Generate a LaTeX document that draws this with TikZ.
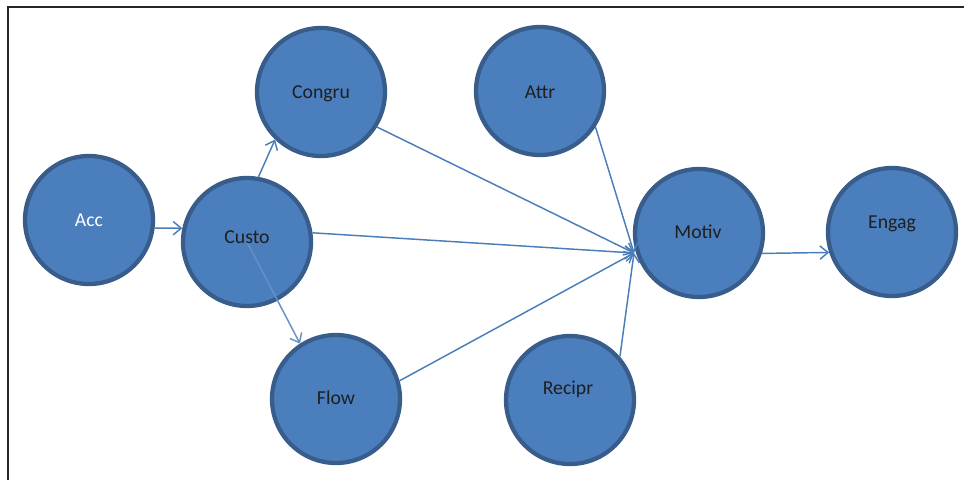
\documentclass[tikz,border=0pt]{standalone}
\usepackage{fontspec}
\setmainfont{Carlito}
\usetikzlibrary{arrows.meta}
\definecolor{ballfill}{HTML}{4A7EBD}
\definecolor{ballline}{HTML}{385D8A}
\definecolor{arrowcol}{HTML}{4A7EBB}
\definecolor{txtcol}{HTML}{1F1F1F}
\tikzset{
  ball/.style={circle, draw=ballline, fill=ballfill, line width=3.2pt, minimum size=96pt, inner sep=0pt},
  txt/.style={text=txtcol, font=\fontsize{14.8pt}{17pt}\selectfont, inner sep=0pt},
  conn/.style={draw=arrowcol, line width=1.1pt, -{Straight Barb[length=6pt,width=10pt,line width=1.1pt]}},
  frame/.style={draw=black!85, line width=0.8pt}
}
\begin{document}
\begin{tikzpicture}[x=0.75pt,y=-0.75pt]
\useasboundingbox (0,0) rectangle (964,480);
\coordinate (fl) at (8,480);
\coordinate (ftl) at (8,7);
\coordinate (ftr) at (964,7);
\draw[frame] (fl) -- (ftl) -- (ftr);

\node[ball] (acc) at (89,220) {};
\node[ball] (custo) at (247,242) {};
\node[ball] (congru) at (321,92) {};
\node[ball] (attr) at (540,91) {};
\node[ball] (motiv) at (699,233) {};
\node[ball] (engag) at (892,232) {};
\node[ball] (flow) at (336,399) {};
\node[ball] (recipr) at (570,400) {};

\draw[conn, draw=arrowcol!85!white] (custo.center) -- (flow.123);

\node[txt, text=white] (accT) at (89,220) {Acc};
\node[txt] (custoT) at (247,237) {Custo};
\node[txt] (congruT) at (321,94) {Congru};
\node[txt] (attrT) at (540,92) {Attr};
\node[txt] (motivT) at (698,232) {Motiv};
\node[txt] (engagT) at (892,224) {Engag};
\node[txt] (flowT) at (336,398) {Flow};
\node[txt] (reciprT) at (568,389) {Recipr};

\coordinate (m) at (634,253);

\draw[conn] (acc.-7) -- (custo.168);
\draw[conn] (custo.80) -- (congru.226);
\draw[conn] (custo.8.6) -- (m);
\draw[conn] (congru.-32) -- (m);
\draw[conn] (attr.-33) -- (m);
\draw[conn] (flow.16) -- (m);
\draw[conn] (recipr.41) -- (m);
\draw[conn] (motiv.-18) -- (engag.198);
\end{tikzpicture}
\end{document}
